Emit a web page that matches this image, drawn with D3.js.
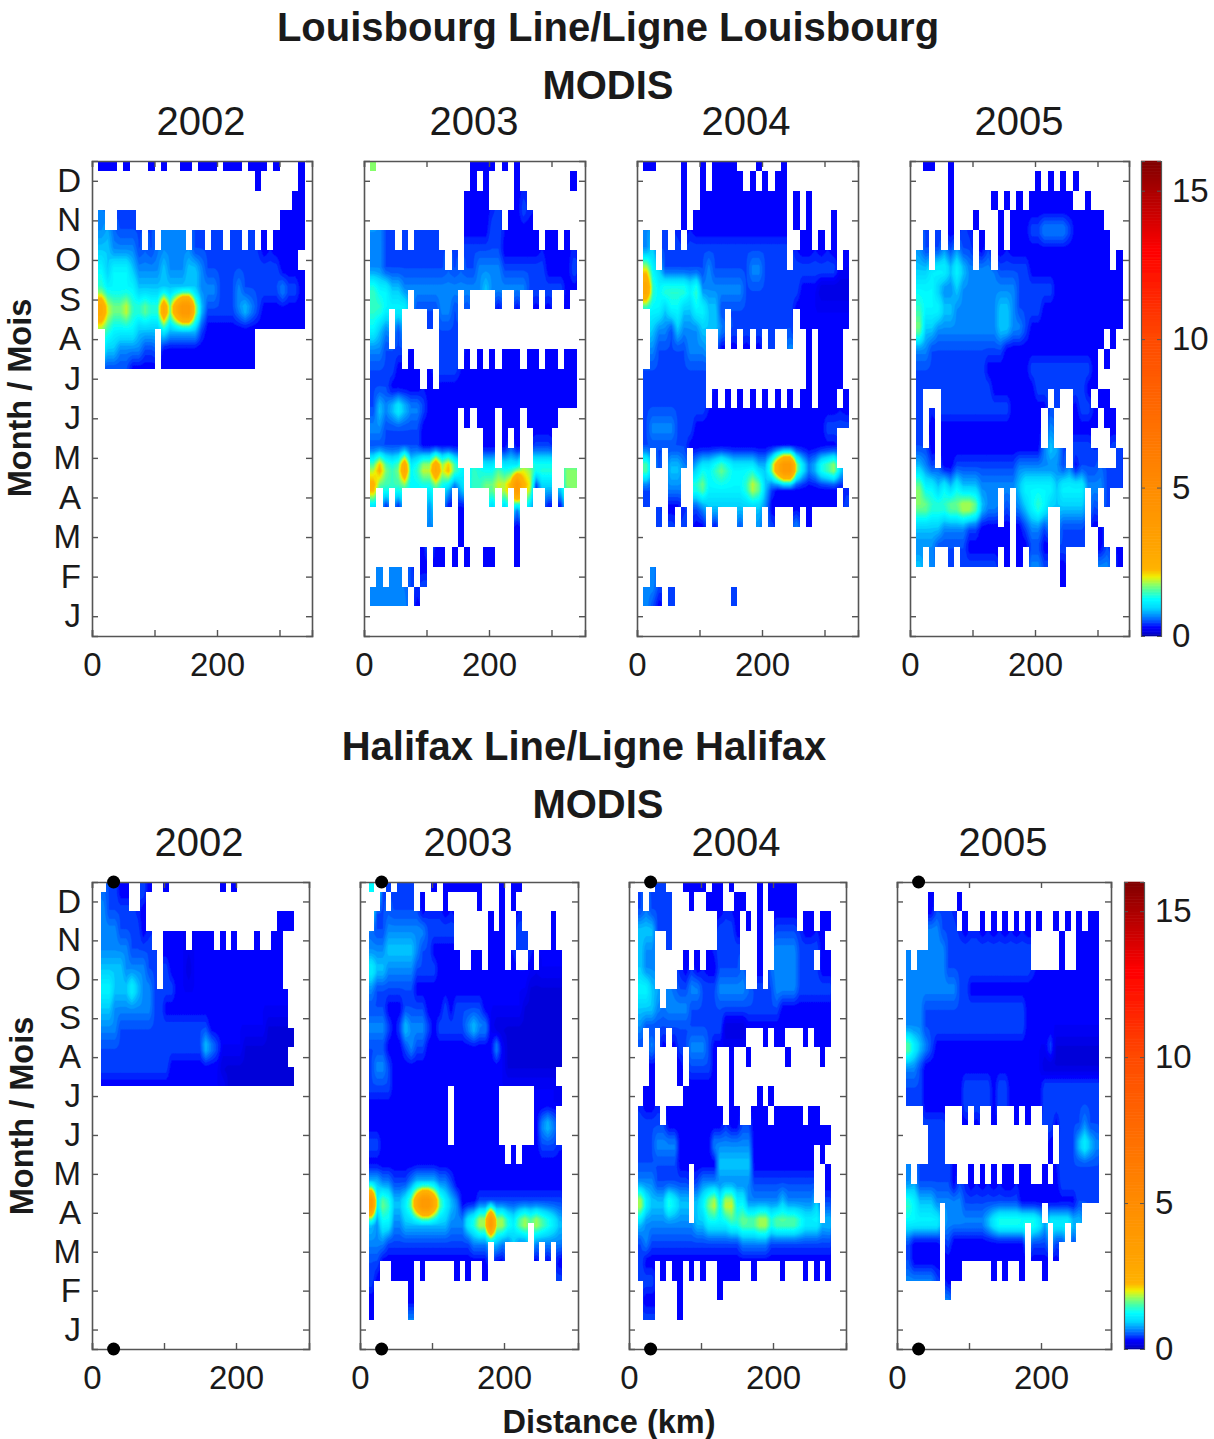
<!DOCTYPE html>
<html>
<head>
<meta charset="utf-8">
<style>
  html, body { margin: 0; background: #fff; }
  text { font-family: "Liberation Sans", Arial, sans-serif; fill: #1a1a1a; }
  .domain, .tick line { stroke: #555; }
</style>
<script src="https://cdn.jsdelivr.net/npm/d3@7"></script>
</head>
<body>
<svg id="chart" width="1214" height="1439"></svg>
<script>
// months, bottom to top
const months = ["J", "F", "M", "A", "M", "J", "J", "A", "S", "O", "N", "D"];
const years = ["2002", "2003", "2004", "2005"];
const colorTicks = [0, 5, 10, 15];

// one char per cell. "." = no data
// the value of a cell is the one at its lower edge
const levelChars = ["0", "1", "2", "3", "4", "5", "6", "7", "8", "9", "a", "b"];
const levelValues = [0.12, 0.28, 0.48, 0.68, 0.9, 1.2, 1.45, 1.7, 2.0, 2.5, 3.2, 4.6];

// colour bar stops
const colorStops = [0, 0.1, 0.3, 0.5, 0.7, 0.95, 1.25, 1.5, 1.75, 2.0, 2.25, 3, 5, 10, 13, 16];
const colorValues = ["#00008f", "#0000d8", "#0000ff", "#0050ff", "#0090ff", "#00d8ff", "#00ffff", "#40ffb0",
  "#90ff60", "#f0f000", "#ffb400", "#ffa400", "#ff8c00", "#ff4a00", "#ff0000", "#800000"];

const louisbourg2002 = [
  ".111.1...1.1..11.111.111.111.1...1.",
  "..........................1......1",
  "................................11",
  ".3..222.......................1111",
  ".4433332.2.3333.22.22.22.2.1.11111",
  ".54555433334333443222222222222111",
  ".655555444444444433322232222223221",
  ".a877866766a7abb842222234321111111",
  ".765555444454444421111111111111111",
  "..443333 22.111111111111111",
  "..22221111.111111111111111"
].map((s) => s.replace(" ", ""));

const louisbourg2003 = [
  ".7...............1111.1.1",
  ".................1.1....1........1",
  "................1111....12",
  "................111122.1111",
  ".3322.2.2222....222222111111.11.1",
  ".332222222222.2.2233332222222111122",
  ".655443333333333333433333322222211",
  ".665555.2222332.2....1..1..1.1..1",
  ".543.2....2.222",
  ".332.2......222",
  ".22221.1....222.1.1.1.111.11.11.11",
  ".22211111.1.1111111111111111111111",
  ".243454332111111111111111111111111",
  ".33222222111111.1.111.111.11111",
  ".22222222111111....11.1.1..222",
  ".79767a5688a897....55.555..666",
  ".966666555565424.6677889b98144..77",
  ".4.1.1....3..1.1....4.4.3.4..1.1",
  "..........3....1........1",
  "...............1........1",
  ".........1.11.1.1..11...1",
  "..3.33.2.2",
  ".333333.1",
  "",
  ""
];

const louisbourg2004 = [
  ".11....1..1.1111...1...1",
  ".......1..1.11111.1.1.11",
  ".......1..11111111111111.1.1",
  ".......1.111111111111111.1.1...1",
  ".3..2.2.2222222222222222..11.1.1",
  ".85.22222223222222332222.2222222.1",
  ".a65666656333333322222222211100000",
  ".555455445544222222222222111111111",
  "..433243334443.2222222222.11111111",
  "..322222333..1.1.1.1.2..3..1.1111",
  "..222222222................1.1111",
  ".2222222222................1.1111",
  ".2222222222.1.1.1.1.1.1.1.11.111.1",
  ".233332221111111111111111111112222",
  ".2222222111111111111111111111111",
  ".7.2.443.4556765555447abb8534678",
  ".2...33..675555556874211111111111",
  ".2...11..23444444444311111111111.2",
  "...2.2.2.11.1...2..3.2...3.1",
  "",
  "",
  "..3",
  ".321.2.........2",
  "",
  ""
];

const louisbourg2005 = [
  "..11..1",
  "......1.............1.1.1.1",
  "......1......1.1.1.1111111..1",
  "......1...1...1.111223333211111",
  "..2.2.2.22.1..1.1111111111111111",
  ".44.554543.33.222221111111111111.1",
  ".555433433333333322222211111111111",
  ".655544333333344322221111111111111",
  ".744333333333344332111111111111111",
  ".332222222222221111111111111111.1",
  ".222222222221111111222222222 21.1",
  ".222222222222111111122222222 11",
  ".2...22222222222111111.2..122.11",
  ".2.1.1111111111111111.3...1111.11",
  ".2.1.1111111111111111.4...222...2",
  ".432.11222222222233333332.1222...22",
  ".755454544433333345555545555333222",
  ".7766677887433.2.34565444444.2.2",
  ".4444333322111.1.12332..2222.1",
  ".33322222111111 1.11221..2222..1",
  ".4.3..2.222222.1.1.332..1.....33.1",
  "........................1",
  "",
  "",
  ""
].map((s) => s.replace(" ", ""));

const halifax2002 = [
  "..2211..21..1.........1.1",
  ".32222..1",
  ".33322221.......................111",
  ".333332222..1111.1111.1.1...1..11",
  ".4444333322.211101111111111111111",
  ".5544454332.221111111111111111111",
  ".443333333221111111111111111111111",
  ".333222222222222222211111111110000",
  ".2222222222222222224321111000000000",
  ".22222222222211111111 1000000000000",
  ".1111111111111111111111000000000000"
].map((s) => s.replace(" ", ""));

const halifax2003 = [
  ".5..2.222...1.1111111...1.11",
  "...2.2222.1...1.....1...1.1",
  "..22333333322222......1.1..2.....1",
  ".333444443221111......111..22....1",
  ".5443333322221111..11.111.1..1.1111",
  ".32222222111111111111111111110000000",
  ".2221112222111212222211111110000000",
  ".3332124333212222234331000000000000",
  ".2221112322111111111111310000000000",
  ".2332111111111111111111110000000000",
  ".22221111111111111111111111 1111111",
  ".11111111111111.11111111......11111",
  ".11111111111111.11111111......1343",
  ".22111111111111.11111111......1222",
  ".111111111111111111111111.1.1111111",
  ".4433222344443321111111111111111111",
  ".b5764457abba7543111222222222222222",
  ".435533444444443335688b886578787654",
  ".3332222222222222223334433433.333333",
  ".221111111111111111111.11.....1.1.1",
  ".21..1111.1.....1.1..1............2",
  ".1......1",
  ".1......3",
  "",
  ""
].map((s) => s.replace(" ", ""));

const halifax2004 = [
  "....22...1111.11.1....1.11111",
  ".2.2222...1..111..11..1.11111",
  ".444222........2221.1.1..2222.11.11",
  ".433..2........2222...1..333322221",
  ".433.....1.1.112222...1..3333222.11",
  ".554....223322233333..2.23333222222",
  ".4443.33332222222222222222111111111",
  ".3222222222222220000111111111111111",
  ".2.3.1.1223332111111...1.11...1.111",
  "...1....1.22221..1..1......1.....1",
  "...1....1.11111..1",
  "..11.....111111..1....1.1",
  ".2222.1111111111.11..111.11111.11",
  ".2223333111111333333311111111111111",
  ".2222222111111144444411111111111.1",
  ".333222222.233333333322222222222..1",
  ".854446544.457858855333333433333..2",
  ".433333333.4455556677788677776555.4",
  ".2322222222222222223333322222222222",
  ".2111111111111111111111111111111111",
  ".222.1.11.1.1..1111..1....1...1.1.1",
  "..11....1......1",
  "..22....1",
  "",
  ""
];

const halifax2005 = [
  "",
  ".....1....1",
  ".....33222.1..1.1.1.1.1.1..1.1.1.11",
  ".....333222222222222222.....1..1111",
  ".3.33333222222222222222.....1..1111",
  ".3333333332211111111111111111111111",
  ".3332222222222222222221111111111111",
  ".3332222222222222222221111111111111",
  ".7543211111111111111111111200000000",
  ".3321111111111111111111110000000000",
  ".2221111111222221221111112222222222",
  ".2221111111222221221111112222222222",
  "....2222...1.1..1...1.1..2212222322",
  ".....222..................1.2224543",
  ".....222..................1.2222222",
  ".3.2222221..1.1.1.11.11..1.12222222",
  ".654443333322222222221111111111 2222",
  ".555555.33333334566666665.555544",
  ".211111.21111111111111.222.22.2",
  ".211111.11111111111111.111.1",
  ".333332.111.....1.1..1...1",
  "........3",
  "",
  "",
  ""
].map((s) => s.replace(" ", ""));

const louisbourgRows = [louisbourg2002, louisbourg2003, louisbourg2004, louisbourg2005];
const halifaxRows = [halifax2002, halifax2003, halifax2004, halifax2005];

const svg = d3.select("#chart");
const defs = svg.append("defs");
defs.append("filter").attr("id", "soft")
  .append("feGaussianBlur").attr("stdDeviation", 0.7);

const colorScale = d3.scaleLinear().domain(colorStops).range(colorValues).clamp(true);

// contour levels: fine where the colour changes fast, coarse above
const contourLevels = d3.range(0, 2.4, 0.07).concat(d3.range(2.4, 6, 0.35));

function decode(rows, nCols) {
  const grid = [];
  for (let r = 0; r < 25; r++) {
    const s = rows[r] || "";
    const row = [];
    for (let c = 0; c < nCols; c++) {
      const i = levelChars.indexOf(s[c]);
      row.push(i < 0 ? null : levelValues[i]);
    }
    grid.push(row);
  }
  return grid;
}

// empty cells take the mean of filled neighbours so the contours run under the mask
function fillGaps(grid) {
  const out = grid.map((r) => r.slice());
  let left = true;
  while (left) {
    left = false;
    const prev = out.map((r) => r.slice());
    for (let r = 0; r < out.length; r++) {
      for (let c = 0; c < out[0].length; c++) {
        if (prev[r][c] !== null) continue;
        const n = [];
        if (r > 0 && prev[r - 1][c] !== null) n.push(prev[r - 1][c]);
        if (r < out.length - 1 && prev[r + 1][c] !== null) n.push(prev[r + 1][c]);
        if (c > 0 && prev[r][c - 1] !== null) n.push(prev[r][c - 1]);
        if (c < out[0].length - 1 && prev[r][c + 1] !== null) n.push(prev[r][c + 1]);
        if (n.length) out[r][c] = d3.mean(n);
        else left = true;
      }
    }
  }
  return out;
}

function drawHeat(g, rows, p, xScale, yScale, id, sec) {
  const grid = decode(rows, sec.nCols);
  const full = fillGaps(grid);
  const nRows = 25;
  const sub = 3;
  const nx = sec.nCols * sub, ny = (nRows + 1) * sub;
  const values = new Array(nx * ny);
  for (let j = 0; j < ny; j++) {
    // node r sits on the lower edge of row r
    const t = (j + 0.5) / sub - 1;
    const r0 = Math.max(0, Math.min(nRows - 1, Math.floor(t)));
    const r1 = Math.min(nRows - 1, r0 + 1);
    const ft = Math.max(0, Math.min(1, t - r0));
    for (let i = 0; i < nx; i++) {
      const u = (i + 0.5) / sub - 0.5;
      const c0 = Math.max(0, Math.min(sec.nCols - 1, Math.floor(u)));
      const c1 = Math.min(sec.nCols - 1, c0 + 1);
      const fu = Math.max(0, Math.min(1, u - c0));
      const top = full[r0][c0] * (1 - fu) + full[r0][c1] * fu;
      const bot = full[r1][c0] * (1 - fu) + full[r1][c1] * fu;
      values[j * nx + i] = top * (1 - ft) + bot * ft;
    }
  }

  const kmOf = (u) => sec.colStart + u * sec.colKm;
  const monthOf = (t) => 11.75 - t / 2;
  const cellTop = (d) => Math.round(Math.max(p.top, yScale(monthOf(d[0]))));
  const cellBottom = (d) => Math.round(Math.min(p.bottom, yScale(monthOf(d[0] + 1))));
  const cellLeft = (d) => Math.round(xScale(kmOf(d[1])));
  const cellRight = (d) => Math.round(xScale(kmOf(d[1] + 1)));

  const clip = defs.append("clipPath").attr("id", id);
  const cells = [];
  grid.forEach((row, r) => row.forEach((v, c) => { if (v !== null) cells.push([r, c]); }));
  clip.selectAll("rect").data(cells).join("rect")
    .attr("x", cellLeft)
    .attr("width", (d) => cellRight(d) - cellLeft(d))
    .attr("y", cellTop)
    .attr("height", (d) => cellBottom(d) - cellTop(d));

  const path = d3.geoPath(d3.geoTransform({
    point(x, y) { this.stream.point(xScale(kmOf(x / sub)), yScale(monthOf(y / sub))); }
  }));
  const contours = d3.contours().size([nx, ny]).thresholds(contourLevels)(values);

  g.append("g").attr("filter", "url(#soft)")
    .append("g").attr("clip-path", "url(#" + id + ")")
    .selectAll("path").data(contours).join("path")
    .attr("d", path)
    .attr("fill", (d) => colorScale(d.value + 0.035))
    .attr("stroke", (d) => colorScale(d.value + 0.035))
    .attr("stroke-width", 0.4);
}

function drawFrame(g, p, xScale, yScale, showMonths, labelSize) {
  const xTicks = [0, 100, 200, 300].filter((v) => xScale(v) < p.right - 2);
  const fmt = (d) => (d === 100 || d === 300 ? "" : d);
  const xBottom = d3.axisBottom(xScale).tickValues(xTicks).tickFormat(fmt).tickSize(-6).tickPadding(17);
  const xTop = d3.axisTop(xScale).tickValues(xTicks).tickFormat("").tickSize(-6);
  const yTickValues = d3.range(0, 12);
  const yLeft = d3.axisLeft(yScale).tickValues(yTickValues)
    .tickFormat((d) => (showMonths ? months[d] : "")).tickSize(-6).tickPadding(11);
  const yRight = d3.axisRight(yScale).tickValues(yTickValues).tickFormat("").tickSize(-6);

  const axes = g.append("g").attr("class", "axes");
  axes.append("g").attr("transform", `translate(0,${p.bottom})`).call(xBottom);
  axes.append("g").attr("transform", `translate(0,${p.top})`).call(xTop);
  axes.append("g").attr("transform", `translate(${p.left},0)`).call(yLeft);
  axes.append("g").attr("transform", `translate(${p.right},0)`).call(yRight);
  axes.selectAll(".domain").attr("stroke-width", 1.6);
  axes.selectAll(".tick line").attr("stroke-width", 1.4);
  axes.selectAll("text").style("font-size", labelSize + "px").attr("font-family", null).attr("fill", "#1a1a1a");
}

function drawColorbar(b) {
  const y = d3.scaleLinear().domain([0, 16]).range([b.bottom, b.top]);
  const g = svg.append("g");
  g.append("g").attr("filter", "url(#soft)")
    .selectAll("rect").data(d3.range(0, 16, 0.05)).join("rect")
    .attr("x", b.left).attr("width", b.right - b.left)
    .attr("y", (d) => y(d + 0.05) - 0.3)
    .attr("height", (d) => y(d) - y(d + 0.05) + 0.6)
    .attr("fill", (d) => colorScale(d + 0.025));
  const left = d3.axisLeft(y).tickValues(colorTicks).tickFormat("").tickSize(-4);
  const right = d3.axisRight(y).tickValues(colorTicks).tickSize(-4).tickPadding(11);
  g.append("g").attr("transform", `translate(${b.left},0)`).call(left);
  const ra = g.append("g").attr("transform", `translate(${b.right},0)`).call(right);
  ra.selectAll("text").style("font-size", "33px").attr("font-family", null).attr("fill", "#1a1a1a");
  g.selectAll(".domain").attr("stroke-width", 1.2);
  g.selectAll(".tick line").attr("stroke-width", 1);
}

function label(text, x, y, size, weight, rotate) {
  const t = svg.append("text").text(text)
    .attr("text-anchor", "middle").attr("dominant-baseline", "middle")
    .style("font-size", size + "px").style("font-weight", weight);
  if (rotate) t.attr("transform", `translate(${x},${y}) rotate(-90)`);
  else t.attr("x", x).attr("y", y);
}

const louisbourg = {
  key: "lb", rows: louisbourgRows, top: 161, bottom: 636, nCols: 34, colStart: 0, colKm: 10,
  panels: [[92, 312], [364, 585], [637, 858], [910, 1129]],
  kmPerPx: 0.625, yearX: [201, 474, 746, 1019], yearY: 124
};
const halifax = {
  key: "hx", rows: halifaxRows, top: 882, bottom: 1349, nCols: 35, colStart: 4, colKm: 7.9,
  panels: [[92, 309], [360, 578], [629, 846], [897, 1111]],
  kmPerPx: 0.72, yearX: [199, 468, 736, 1003], yearY: 845, dots: true
};

[louisbourg, halifax].forEach((sec) => {
  sec.panels.forEach((ext, i) => {
    const p = { left: ext[0], right: ext[1], top: sec.top, bottom: sec.bottom };
    const xScale = d3.scaleLinear().domain([0, (p.right - p.left) / sec.kmPerPx]).range([p.left, p.right]);
    const yScale = d3.scaleLinear().domain([-0.5, 11.5]).range([p.bottom, p.top]);
    const g = svg.append("g");
    drawHeat(g, sec.rows[i], p, xScale, yScale, sec.key + i, sec);
    drawFrame(g, p, xScale, yScale, i === 0, 33);
    if (sec.dots) {
      g.selectAll("circle").data([p.top, p.bottom]).join("circle")
        .attr("cx", xScale(30)).attr("cy", (d) => d).attr("r", 6.5).attr("fill", "#000");
    }
    label(years[i], sec.yearX[i], sec.yearY, 40, "normal");
  });
});

drawColorbar({ left: 1141, right: 1161, top: 161, bottom: 636 });
drawColorbar({ left: 1124, right: 1144, top: 882, bottom: 1349 });

label("Louisbourg Line/Ligne Louisbourg", 608, 30, 40, "bold");
label("MODIS", 608, 88, 40, "bold");
label("Halifax Line/Ligne Halifax", 584, 749, 40, "bold");
label("MODIS", 598, 807, 40, "bold");
label("Month / Mois", 22, 398, 32.5, "bold", true);
label("Month / Mois", 24, 1116, 32.5, "bold", true);
label("Distance (km)", 609, 1424, 32.5, "bold");
</script>
</body>
</html>
